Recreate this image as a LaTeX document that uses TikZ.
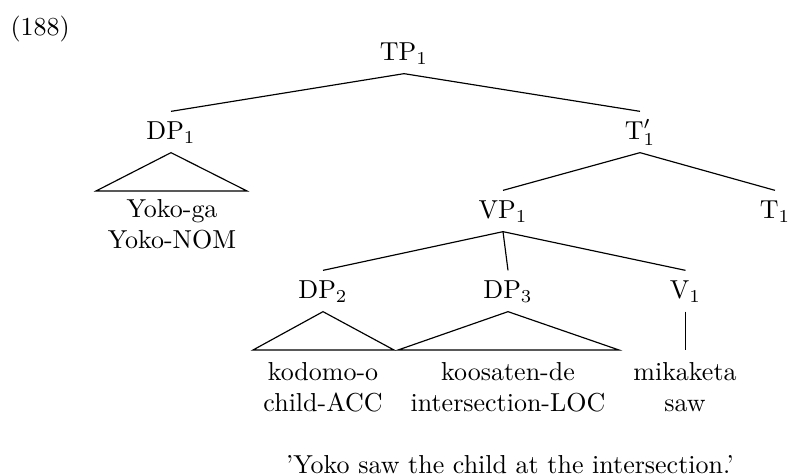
\documentclass[tikz,border=0pt]{standalone}
\begin{document}
\begin{tikzpicture}[x=0.385pt,y=-0.385pt,
  cat/.style={inner xsep=1pt, inner ysep=2.5pt, text height=8pt, text depth=2.5pt},
  leaf/.style={inner sep=0pt, align=center, anchor=north},
  plain/.style={inner sep=0pt},
  branch/.style={line width=0.45pt}]
\useasboundingbox (0,0) rectangle (788,475);
\node[plain, anchor=base west] (num) at (10,35) {(188)};
\node[cat] (tp) at (404,53) {TP$_1$};
\node[cat] (dp1) at (171,132) {DP$_1$};
\node[cat] (tbar) at (640,132) {T$'_1$};
\node[cat] (vp) at (503,211) {VP$_1$};
\node[cat] (t) at (775,211) {T$_1$};
\node[cat] (dp2) at (323,291) {DP$_2$};
\node[cat] (dp3) at (508,291) {DP$_3$};
\node[cat] (v) at (685.5,291) {V$_1$};
\node[leaf] (yoko) at (172,199) {Yoko-ga\\Yoko-NOM};
\node[leaf] (kodomo) at (323,362) {kodomo-o\\child-ACC};
\node[leaf] (koosaten) at (508,362) {koosaten-de\\intersection-LOC};
\node[leaf] (mikaketa) at (685,362) {mikaketa\\saw};
\node[plain, anchor=base] (gloss) at (510,473) {'Yoko saw the child at the intersection.'};
\coordinate (t1l) at (96,191);
\coordinate (t1r) at (247,191);
\coordinate (t2l) at (253,350);
\coordinate (t2r) at (394,350);
\coordinate (t3l) at (398,350);
\coordinate (t3r) at (619,350);
\coordinate (vend) at (685.5,350);
\draw[branch] (tp.south) -- (dp1.north);
\draw[branch] (tp.south) -- (tbar.north);
\draw[branch] (tbar.south) -- (vp.north);
\draw[branch] (tbar.south) -- (t.north);
\draw[branch] (vp.south) -- (dp2.north);
\draw[branch] (vp.south) -- (dp3.north);
\draw[branch] (vp.south) -- (v.north);
\draw[branch] (v.south) -- (vend);
\draw[branch] (dp1.south) -- (t1l) -- (t1r) -- cycle;
\draw[branch] (dp2.south) -- (t2l) -- (t2r) -- cycle;
\draw[branch] (dp3.south) -- (t3l) -- (t3r) -- cycle;
\end{tikzpicture}
\end{document}
